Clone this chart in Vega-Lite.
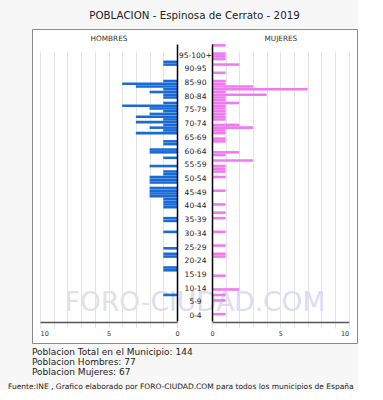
{
  "$schema": "https://vega.github.io/schema/vega-lite/v6.json",
  "background": "#f7f7f7",
  "padding": {"left": 8, "top": 11, "right": 0, "bottom": 0},
  "config": {"font": "DejaVu Sans", "view": {"stroke": null}},
  "title": {"text": "POBLACION - Espinosa de Cerrato - 2019", "fontSize": 10.3, "fontWeight": "normal", "color": "#222222", "anchor": "middle", "frame": "group", "offset": 7},
  "data": {"values": [
    {"edad": 0, "hombres": 0, "mujeres": 0}, {"edad": 1, "hombres": 0, "mujeres": 0}, {"edad": 2, "hombres": 0, "mujeres": 1},
    {"edad": 3, "hombres": 0, "mujeres": 0}, {"edad": 4, "hombres": 0, "mujeres": 0}, {"edad": 5, "hombres": 0, "mujeres": 0},
    {"edad": 6, "hombres": 0, "mujeres": 0}, {"edad": 7, "hombres": 0, "mujeres": 1}, {"edad": 8, "hombres": 0, "mujeres": 0},
    {"edad": 9, "hombres": 1, "mujeres": 1}, {"edad": 10, "hombres": 0, "mujeres": 0}, {"edad": 11, "hombres": 0, "mujeres": 2},
    {"edad": 12, "hombres": 0, "mujeres": 0}, {"edad": 13, "hombres": 0, "mujeres": 0}, {"edad": 14, "hombres": 0, "mujeres": 0},
    {"edad": 15, "hombres": 0, "mujeres": 0}, {"edad": 16, "hombres": 0, "mujeres": 1}, {"edad": 17, "hombres": 0, "mujeres": 0},
    {"edad": 18, "hombres": 1, "mujeres": 0}, {"edad": 19, "hombres": 1, "mujeres": 0}, {"edad": 20, "hombres": 0, "mujeres": 0},
    {"edad": 21, "hombres": 0, "mujeres": 0}, {"edad": 22, "hombres": 0, "mujeres": 0}, {"edad": 23, "hombres": 1, "mujeres": 1},
    {"edad": 24, "hombres": 1, "mujeres": 1}, {"edad": 25, "hombres": 0, "mujeres": 0}, {"edad": 26, "hombres": 1, "mujeres": 0},
    {"edad": 27, "hombres": 0, "mujeres": 1}, {"edad": 28, "hombres": 0, "mujeres": 0}, {"edad": 29, "hombres": 0, "mujeres": 0},
    {"edad": 30, "hombres": 0, "mujeres": 0}, {"edad": 31, "hombres": 0, "mujeres": 0}, {"edad": 32, "hombres": 1, "mujeres": 1},
    {"edad": 33, "hombres": 0, "mujeres": 0}, {"edad": 34, "hombres": 0, "mujeres": 0}, {"edad": 35, "hombres": 0, "mujeres": 0},
    {"edad": 36, "hombres": 1, "mujeres": 0}, {"edad": 37, "hombres": 1, "mujeres": 1}, {"edad": 38, "hombres": 0, "mujeres": 0},
    {"edad": 39, "hombres": 0, "mujeres": 1}, {"edad": 40, "hombres": 0, "mujeres": 0}, {"edad": 41, "hombres": 1, "mujeres": 0},
    {"edad": 42, "hombres": 1, "mujeres": 1}, {"edad": 43, "hombres": 1, "mujeres": 0}, {"edad": 44, "hombres": 1, "mujeres": 0},
    {"edad": 45, "hombres": 2, "mujeres": 0}, {"edad": 46, "hombres": 2, "mujeres": 0}, {"edad": 47, "hombres": 2, "mujeres": 1},
    {"edad": 48, "hombres": 2, "mujeres": 0}, {"edad": 49, "hombres": 0, "mujeres": 0}, {"edad": 50, "hombres": 2, "mujeres": 0},
    {"edad": 51, "hombres": 2, "mujeres": 0}, {"edad": 52, "hombres": 2, "mujeres": 1}, {"edad": 53, "hombres": 1, "mujeres": 0},
    {"edad": 54, "hombres": 1, "mujeres": 1}, {"edad": 55, "hombres": 0, "mujeres": 1}, {"edad": 56, "hombres": 2, "mujeres": 1},
    {"edad": 57, "hombres": 0, "mujeres": 0}, {"edad": 58, "hombres": 0, "mujeres": 3}, {"edad": 59, "hombres": 1, "mujeres": 0},
    {"edad": 60, "hombres": 0, "mujeres": 1}, {"edad": 61, "hombres": 2, "mujeres": 2}, {"edad": 62, "hombres": 2, "mujeres": 0},
    {"edad": 63, "hombres": 0, "mujeres": 0}, {"edad": 64, "hombres": 1, "mujeres": 0}, {"edad": 65, "hombres": 1, "mujeres": 1},
    {"edad": 66, "hombres": 0, "mujeres": 1}, {"edad": 67, "hombres": 0, "mujeres": 0}, {"edad": 68, "hombres": 3, "mujeres": 1},
    {"edad": 69, "hombres": 1, "mujeres": 1}, {"edad": 70, "hombres": 2, "mujeres": 3}, {"edad": 71, "hombres": 1, "mujeres": 2},
    {"edad": 72, "hombres": 3, "mujeres": 0}, {"edad": 73, "hombres": 1, "mujeres": 1}, {"edad": 74, "hombres": 3, "mujeres": 1},
    {"edad": 75, "hombres": 2, "mujeres": 1}, {"edad": 76, "hombres": 1, "mujeres": 1}, {"edad": 77, "hombres": 2, "mujeres": 1},
    {"edad": 78, "hombres": 4, "mujeres": 1}, {"edad": 79, "hombres": 1, "mujeres": 2}, {"edad": 80, "hombres": 0, "mujeres": 1},
    {"edad": 81, "hombres": 1, "mujeres": 1}, {"edad": 82, "hombres": 1, "mujeres": 4}, {"edad": 83, "hombres": 2, "mujeres": 1},
    {"edad": 84, "hombres": 1, "mujeres": 7}, {"edad": 85, "hombres": 3, "mujeres": 3}, {"edad": 86, "hombres": 4, "mujeres": 1},
    {"edad": 87, "hombres": 1, "mujeres": 1}, {"edad": 88, "hombres": 0, "mujeres": 0}, {"edad": 89, "hombres": 0, "mujeres": 0},
    {"edad": 90, "hombres": 0, "mujeres": 1}, {"edad": 91, "hombres": 0, "mujeres": 0}, {"edad": 92, "hombres": 0, "mujeres": 0},
    {"edad": 93, "hombres": 1, "mujeres": 2}, {"edad": 94, "hombres": 1, "mujeres": 0}, {"edad": 95, "hombres": 0, "mujeres": 1},
    {"edad": 96, "hombres": 0, "mujeres": 1}, {"edad": 97, "hombres": 0, "mujeres": 1}, {"edad": 98, "hombres": 0, "mujeres": 0},
    {"edad": 99, "hombres": 0, "mujeres": 0}, {"edad": 100, "hombres": 0, "mujeres": 1}
  ]},
  "vconcat": [{
    "title": {"text": "Fuente:INE , Grafico elaborado por FORO-CIUDAD.COM para todos los municipios de España", "orient": "bottom", "anchor": "start", "frame": "group", "dx": -24, "fontSize": 7.5, "fontWeight": "normal", "color": "#222222", "offset": 5},
    "vconcat": [{
      "title": {"text": ["Poblacion Total en el Municipio: 144", "Poblacion Hombres: 77", "Poblacion Mujeres: 67"], "orient": "bottom", "anchor": "start", "frame": "group", "fontSize": 9, "lineHeight": 10, "fontWeight": "normal", "color": "#222222", "offset": 5},
      "width": 325,
      "height": 314,
      "view": {"stroke": "#8a8a8a", "fill": "#ffffff"},
      "resolve": {"scale": {"x": "independent"}, "axis": {"x": "independent", "y": "independent"}},
      "layer": [
        {
          "data": {"values": [{"marca": "FORO-"}]},
          "mark": {"type": "text", "fontSize": 26.5, "color": "#e2e2e2", "align": "right", "baseline": "middle", "dx": -44},
          "encoding": {
            "text": {"field": "marca"},
            "y": {"datum": 6, "type": "quantitative", "scale": {"domain": [-0.5, 100.5], "range": [292, 15], "padding": 0, "nice": false, "zero": false}, "axis": null}
          }
        },
        {
          "data": {"values": [{"marca": "CIUDAD.COM"}]},
          "mark": {"type": "text", "fontSize": 26.5, "color": "#dcdcf6", "align": "left", "baseline": "middle", "dx": -44},
          "encoding": {
            "text": {"field": "marca"},
            "y": {"datum": 6, "type": "quantitative", "scale": {"domain": [-0.5, 100.5], "range": [292, 15], "padding": 0, "nice": false, "zero": false}, "axis": null}
          }
        },
        {
          "mark": {"type": "bar", "orient": "horizontal", "height": 2.6, "color": "#1a6ad6"},
          "encoding": {
            "y": {"field": "edad", "type": "quantitative", "scale": {"domain": [-0.5, 100.5], "range": [292, 15], "padding": 0, "nice": false, "zero": false},
              "axis": {"orient": "right", "offset": -180, "domain": true, "domainColor": "#000000", "domainWidth": 1.5, "labels": false, "ticks": false, "grid": false, "title": null, "zindex": 1}},
            "x": {"field": "hombres", "type": "quantitative", "scale": {"domain": [0, 10], "range": [145, 8], "padding": 0, "nice": false},
              "axis": {"orient": "bottom", "offset": -21, "values": [0, 1, 2, 3, 4, 5, 6, 7, 8, 9, 10],
                "labelExpr": "datum.value % 5 === 0 ? datum.label : ''", "labelFlush": false, "labelOverlap": false,
                "labelAlign": {"condition": {"test": "datum.value === 10", "value": "left"}, "value": "center"},
                "grid": true, "gridColor": "#e4e4e4", "domainColor": "#555555", "domainWidth": 1.5, "ticks": false,
                "labelFontSize": 6.5, "labelColor": "#333333", "labelPadding": 8,
                "title": "HOMBRES", "titleFontSize": 7.3, "titleFontWeight": "normal", "titleColor": "#333333", "titleY": -284, "titleBaseline": "middle"}}
          }
        },
        {
          "mark": {"type": "bar", "orient": "horizontal", "height": 2.6, "color": "#f07af0"},
          "encoding": {
            "y": {"field": "edad", "type": "quantitative", "scale": {"domain": [-0.5, 100.5], "range": [292, 15], "padding": 0, "nice": false, "zero": false},
              "axis": {"orient": "left", "offset": -180, "domain": true, "domainColor": "#000000", "domainWidth": 1.5,
                "values": [2, 7, 12, 17, 22, 27, 32, 37, 42, 47, 52, 57, 62, 67, 72, 77, 82, 87, 92, 97],
                "labelExpr": "datum.value > 95 ? '95-100+' : datum.value > 90 ? '90-95' : datum.value > 85 ? '85-90' : (floor(datum.value / 5) * 5) + '-' + (floor(datum.value / 5) * 5 + 4)",
                "labelAlign": "center", "labelBaseline": "middle", "labelPadding": 17, "labelOffset": 1.5, "labelOverlap": false,
                "labelFontSize": 7.5, "labelColor": "#222222", "ticks": false, "tickSize": 0, "grid": false, "title": null, "zindex": 1}},
            "x": {"field": "mujeres", "type": "quantitative", "scale": {"domain": [0, 10], "range": [180, 316.7], "padding": 0, "nice": false},
              "axis": {"orient": "bottom", "offset": -21, "values": [0, 1, 2, 3, 4, 5, 6, 7, 8, 9, 10],
                "labelExpr": "datum.value % 5 === 0 ? datum.label : ''", "labelFlush": false, "labelOverlap": false,
                "labelAlign": {"condition": {"test": "datum.value === 10", "value": "right"}, "value": "center"},
                "grid": true, "gridColor": "#e4e4e4", "domainColor": "#555555", "domainWidth": 1.5, "ticks": false,
                "labelFontSize": 6.5, "labelColor": "#333333", "labelPadding": 8,
                "title": "MUJERES", "titleFontSize": 7.3, "titleFontWeight": "normal", "titleColor": "#333333", "titleY": -284, "titleBaseline": "middle"}}
          }
        }
      ]
    }]
  }]
}
